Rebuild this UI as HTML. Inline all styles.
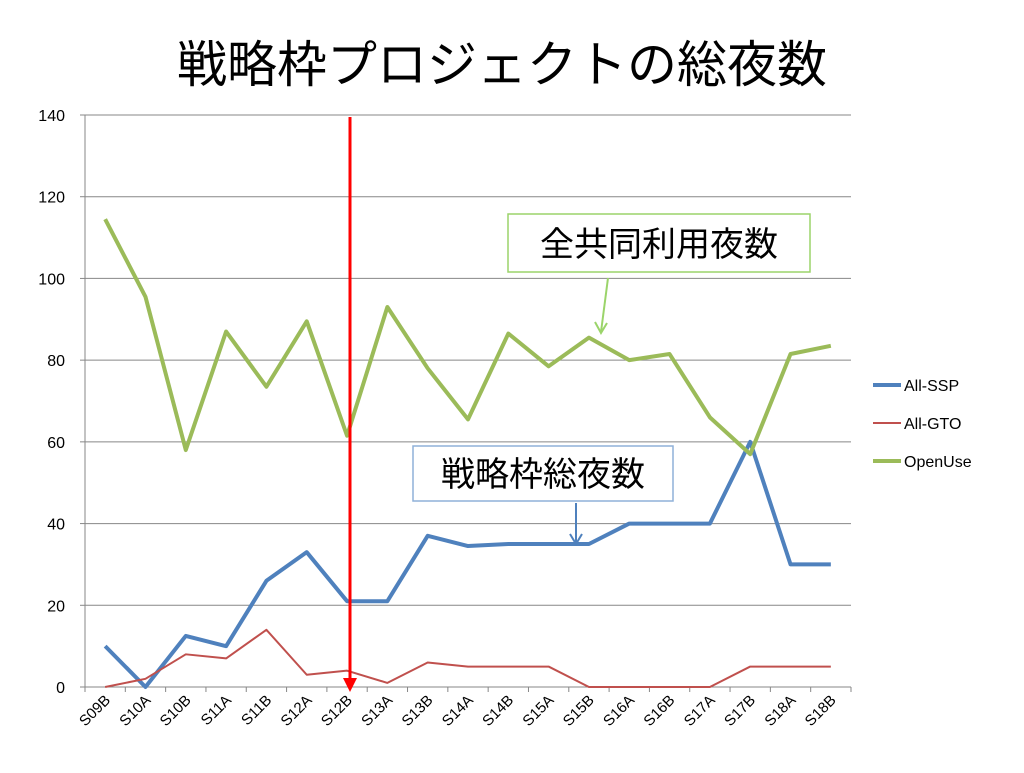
<!DOCTYPE html>
<html><head><meta charset="utf-8"><style>
body{margin:0;background:#fff;}
svg text{font-family:"Liberation Sans","Noto Sans CJK JP",sans-serif;}
</style></head><body>
<svg width="1024" height="768" xmlns="http://www.w3.org/2000/svg">
<text x="502" y="82" font-size="50" text-anchor="middle" fill="#000">戦略枠プロジェクトの総夜数</text>
<g id="grid"></g><g id="axes"></g><g id="series"></g>
<line x1="350" y1="117" x2="350" y2="680" stroke="#ff0000" stroke-width="3"/>
<polygon points="343,678 357,678 350,692" fill="#ff0000"/>
<rect x="508" y="214" width="302" height="58" fill="#fff" stroke="#9bd46a" stroke-width="1.5"/>
<text x="659" y="256" font-size="34" text-anchor="middle">全共同利用夜数</text>
<line x1="608" y1="278" x2="601" y2="332" stroke="#9bd46a" stroke-width="2"/>
<polyline points="595,322 601,333 607,323" fill="none" stroke="#9bd46a" stroke-width="2"/>
<rect x="413" y="446" width="260" height="55" fill="#fff" stroke="#8fb1d9" stroke-width="1.5"/>
<text x="543" y="486" font-size="34" text-anchor="middle">戦略枠総夜数</text>
<line x1="576" y1="503" x2="576" y2="543" stroke="#4f81bd" stroke-width="2"/>
<polyline points="570,534 576,544 582,534" fill="none" stroke="#4f81bd" stroke-width="2"/>
<g id="legend"></g>
</svg>
<script>
const categories=["S09B","S10A","S10B","S11A","S11B","S12A","S12B","S13A","S13B","S14A","S14B","S15A","S15B","S16A","S16B","S17A","S17B","S18A","S18B"];
const allSSP=[10,0,12.5,10,26,33,21,21,37,34.5,35,35,35,40,40,40,60,30,30];
const allGTO=[0,2,8,7,14,3,4,1,6,5,5,5,0,0,0,0,5,5,5];
const openUse=[114.5,95.5,58,87,73.5,89.5,61.5,93,78,65.5,86.5,78.5,85.5,80,81.5,66,57,81.5,83.5];
const yTicks=[0,20,40,60,80,100,120,140];
const seriesNames=["All-SSP","All-GTO","OpenUse"];
const NS="http://www.w3.org/2000/svg";
const L=85,R=851,T=115,B=687,yMax=140;
const bw=(R-L)/categories.length;
const xs=i=>L+bw*(i+0.5);
const ys=v=>B-(v/yMax)*(B-T);
function mk(tag,attrs,parent){const e=document.createElementNS(NS,tag);for(const k in attrs)e.setAttribute(k,attrs[k]);document.getElementById(parent).appendChild(e);return e;}
yTicks.forEach(t=>{
 if(t>0){const g=mk('line',{x1:L,x2:R,y1:ys(t),y2:ys(t),stroke:'#878787','stroke-width':1},'grid');
 
 }
 const tx=mk('text',{x:L-20,y:ys(t)+6,'font-size':16,'text-anchor':'end'},'axes');tx.textContent=t;
 
 
 mk('line',{x1:L-5,x2:L,y1:ys(t),y2:ys(t),stroke:'#878787'},'axes');
});
mk('line',{x1:L,x2:L,y1:T,y2:B,stroke:'#878787'},'axes');
mk('line',{x1:L,x2:R,y1:B,y2:B,stroke:'#878787'},'axes');
categories.forEach((c,i)=>{
 mk('line',{x1:L+bw*i,x2:L+bw*i,y1:B,y2:B+5,stroke:'#878787'},'axes');
 const x=xs(i)+6,y=B+14;
 const tx=mk('text',{x:x,y:y,'font-size':15,'text-anchor':'end',transform:`rotate(-45 ${x} ${y})`},'axes');tx.textContent=c;
 
 
});
mk('line',{x1:R,x2:R,y1:B,y2:B+5,stroke:'#878787'},'axes');
const cols=['#4f81bd','#c0504d','#9bbb59'],widths=[4,2,4];
[allSSP,allGTO,openUse].forEach((d,s)=>{
 const p=mk('polyline',{points:d.map((v,i)=>xs(i)+','+ys(v)).join(' '),fill:'none',stroke:cols[s],'stroke-width':widths[s],'stroke-linejoin':'round'},'series');
 
 
 const ly=385+s*38;
 const ll=mk('line',{x1:873,x2:901,y1:ly,y2:ly,stroke:cols[s],'stroke-width':widths[s]},'legend');
 
 
 const lt=mk('text',{x:904,y:ly+6,'font-size':16},'legend');lt.textContent=seriesNames[s];
 
 
});
</script>
</body></html>
